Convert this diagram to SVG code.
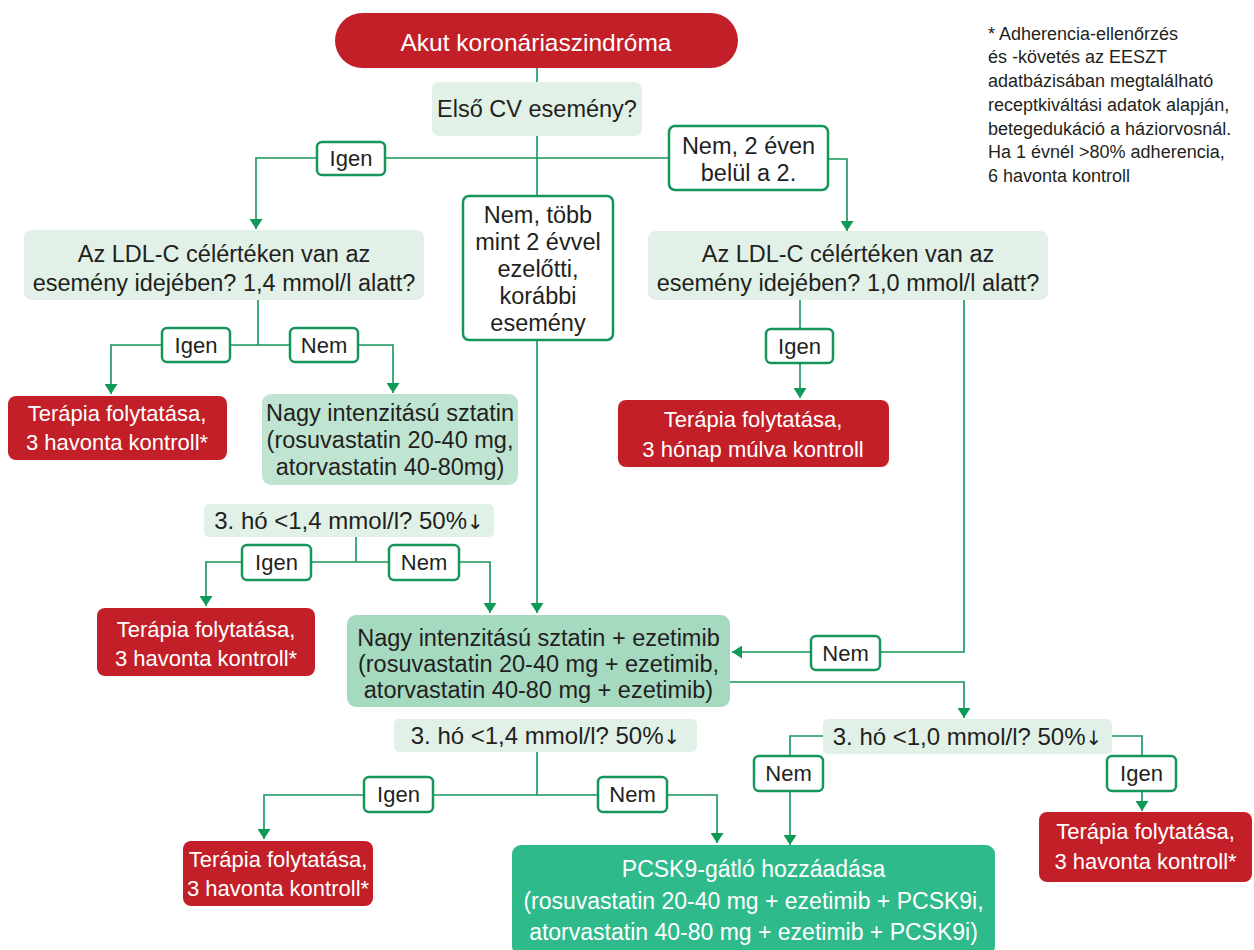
<svg xmlns="http://www.w3.org/2000/svg" width="1254" height="950" viewBox="0 0 1254 950">
<style>
text{font-family:"Liberation Sans",Arial,sans-serif;fill:#231f20;text-anchor:middle}
.t{font-size:23.5px}
.r{font-size:22px;fill:#ffffff}
.w{fill:#ffffff}
.h{font-size:24px}
.ar{font-family:"DejaVu Sans",sans-serif;font-size:20px;fill:#231f20}
.lbl{font-size:22px}
.fn{font-size:18px;text-anchor:start}
.red{fill:#c21f28}
.q{fill:#e1f1e7}
.g1{fill:#bfe4d1}
.g2{fill:#a5d9c0}
.g3{fill:#2fba8b}
.lb{fill:#ffffff;stroke:#14955a;stroke-width:2.5}
.c{fill:none;stroke:#14955a;stroke-width:1.6}
</style>
<defs>
<marker id="ah" viewBox="0 0 10 13" refX="10" refY="6.5" markerWidth="10" markerHeight="13" orient="auto" markerUnits="userSpaceOnUse">
<path d="M0,0 L10,6.5 L0,13 z" fill="#0d9a57"/>
</marker>
</defs>

<g id="connectors">
<path class="c" d="M537,68 V82"/>
<path class="c" d="M537,136 V196"/>
<path class="c" d="M537,158 H256 V229" marker-end="url(#ah)"/>
<path class="c" d="M537,158 H669"/>
<path class="c" d="M828,159 H847 V231" marker-end="url(#ah)"/>
<path class="c" d="M537,340 V613" marker-end="url(#ah)"/>
<path class="c" d="M258,300 V345"/>
<path class="c" d="M258,345 H111 V394" marker-end="url(#ah)"/>
<path class="c" d="M258,345 H393 V393" marker-end="url(#ah)"/>
<path class="c" d="M800,300 V398" marker-end="url(#ah)"/>
<path class="c" d="M964,300 V652 H732" marker-end="url(#ah)"/>
<path class="c" d="M356,537 V562"/>
<path class="c" d="M356,562 H206 V606" marker-end="url(#ah)"/>
<path class="c" d="M356,562 H490 V613" marker-end="url(#ah)"/>
<path class="c" d="M730,682 H964 V718" marker-end="url(#ah)"/>
<path class="c" d="M537,752 V795"/>
<path class="c" d="M537,795 H264 V839" marker-end="url(#ah)"/>
<path class="c" d="M537,795 H717 V843" marker-end="url(#ah)"/>
<path class="c" d="M823,736 H790 V845" marker-end="url(#ah)"/>
<path class="c" d="M1112,736 H1142 V811" marker-end="url(#ah)"/>
</g>

<g id="n-start">
<rect class="red" x="335" y="13" width="403" height="55" rx="27.5"/>
<text class="w" x="536" y="51" font-size="24.5">Akut koronáriaszindróma</text>
</g>

<g id="n-first">
<rect class="q" x="432" y="82" width="210" height="54" rx="7"/>
<text class="t" x="537" y="117">Első CV esemény?</text>
</g>

<g id="l-igen1">
<rect class="lb" x="317" y="142" width="68" height="33" rx="5"/>
<text class="lbl" x="351" y="166">Igen</text>
</g>

<g id="n-nem2">
<rect class="lb" x="669" y="126" width="159" height="64" rx="6"/>
<text class="t" x="748.5" y="154">Nem, 2 éven</text>
<text class="t" x="748.5" y="181">belül a 2.</text>
</g>

<g id="n-nemtobb">
<rect class="lb" x="463" y="196" width="150" height="144" rx="6"/>
<text class="t" x="538" y="223">Nem, több</text>
<text class="t" x="538" y="250">mint 2 évvel</text>
<text class="t" x="538" y="277">ezelőtti,</text>
<text class="t" x="538" y="304">korábbi</text>
<text class="t" x="538" y="331">esemény</text>
</g>

<g id="n-ldl14">
<rect class="q" x="24" y="230" width="400" height="70" rx="8"/>
<text class="t" x="224" y="262">Az LDL-C célértéken van az</text>
<text class="t" x="224" y="291">esemény idejében? 1,4 mmol/l alatt?</text>
</g>

<g id="n-ldl10">
<rect class="q" x="648" y="231" width="400" height="69" rx="8"/>
<text class="t" x="848" y="262">Az LDL-C célértéken van az</text>
<text class="t" x="848" y="291">esemény idejében? 1,0 mmol/l alatt?</text>
</g>

<g id="l-igen2">
<rect class="lb" x="162" y="328" width="68" height="34" rx="5"/>
<text class="lbl" x="196" y="353">Igen</text>
</g>
<g id="l-nem2">
<rect class="lb" x="290" y="328" width="68" height="34" rx="5"/>
<text class="lbl" x="324" y="353">Nem</text>
</g>

<g id="n-ter1">
<rect class="red" x="8" y="396" width="219" height="64" rx="8"/>
<text class="r" x="117" y="421">Terápia folytatása,</text>
<text class="r" x="117" y="450">3 havonta kontroll*</text>
</g>

<g id="n-sztatin">
<rect class="g1" x="262" y="394" width="256" height="91" rx="9"/>
<text class="t" x="390" y="421">Nagy intenzitású sztatin</text>
<text class="t" x="390" y="448">(rosuvastatin 20-40 mg,</text>
<text class="t" x="390" y="475">atorvastatin 40-80mg)</text>
</g>

<g id="l-igen3">
<rect class="lb" x="766" y="329" width="67" height="34" rx="5"/>
<text class="lbl" x="799.5" y="354">Igen</text>
</g>

<g id="n-ter2">
<rect class="red" x="618" y="400" width="271" height="67" rx="8"/>
<text class="r" x="753" y="427" font-size="23">Terápia folytatása,</text>
<text class="r" x="753" y="457" font-size="23">3 hónap múlva kontroll</text>
</g>

<g id="n-ho1">
<rect class="q" x="204" y="504" width="290" height="33" rx="5"/>
<text class="h" x="349" y="529">3. hó &lt;1,4 mmol/l? 50%<tspan class="ar">↓</tspan></text>
</g>

<g id="l-igen4">
<rect class="lb" x="242" y="545" width="69" height="35" rx="5"/>
<text class="lbl" x="276.5" y="570">Igen</text>
</g>
<g id="l-nem4">
<rect class="lb" x="389" y="545" width="70" height="35" rx="5"/>
<text class="lbl" x="424" y="570">Nem</text>
</g>

<g id="n-ter3">
<rect class="red" x="97" y="608" width="218" height="68" rx="8"/>
<text class="r" x="206" y="637">Terápia folytatása,</text>
<text class="r" x="206" y="666">3 havonta kontroll*</text>
</g>

<g id="n-ezetimib">
<rect class="g2" x="347" y="615" width="383" height="92" rx="9"/>
<text class="t" x="538.5" y="646">Nagy intenzitású sztatin + ezetimib</text>
<text class="t" x="538.5" y="672">(rosuvastatin 20-40 mg + ezetimib,</text>
<text class="t" x="538.5" y="698">atorvastatin 40-80 mg + ezetimib)</text>
</g>

<g id="l-nem5">
<rect class="lb" x="811" y="636" width="69" height="34" rx="5"/>
<text class="lbl" x="845.5" y="661">Nem</text>
</g>

<g id="n-ho2">
<rect class="q" x="394" y="719" width="303" height="33" rx="5"/>
<text class="h" x="545.5" y="744">3. hó &lt;1,4 mmol/l? 50%<tspan class="ar">↓</tspan></text>
</g>

<g id="n-ho3">
<rect class="q" x="823" y="719" width="289" height="35" rx="5"/>
<text class="h" x="967.5" y="745">3. hó &lt;1,0 mmol/l? 50%<tspan class="ar">↓</tspan></text>
</g>

<g id="l-igen6">
<rect class="lb" x="364" y="777" width="69" height="35" rx="5"/>
<text class="lbl" x="398.5" y="802">Igen</text>
</g>
<g id="l-nem6">
<rect class="lb" x="598" y="777" width="69" height="35" rx="5"/>
<text class="lbl" x="632.5" y="802">Nem</text>
</g>

<g id="l-nem7">
<rect class="lb" x="754" y="756" width="69" height="35" rx="5"/>
<text class="lbl" x="788.5" y="781">Nem</text>
</g>
<g id="l-igen7">
<rect class="lb" x="1107" y="756" width="69" height="35" rx="5"/>
<text class="lbl" x="1141.5" y="781">Igen</text>
</g>

<g id="n-ter4">
<rect class="red" x="183" y="841" width="190" height="65" rx="8"/>
<text class="r" x="278" y="867" font-size="21">Terápia folytatása,</text>
<text class="r" x="278" y="896" font-size="21">3 havonta kontroll*</text>
</g>

<g id="n-ter5">
<rect class="red" x="1039" y="812" width="213" height="70" rx="8"/>
<text class="r" x="1145.5" y="839">Terápia folytatása,</text>
<text class="r" x="1145.5" y="869">3 havonta kontroll*</text>
</g>

<g id="n-pcsk9">
<rect class="g3" x="512" y="845" width="483" height="110" rx="9"/>
<text class="w" x="753.5" y="877" font-size="23">PCSK9-gátló hozzáadása</text>
<text class="w" x="753.5" y="909" font-size="23">(rosuvastatin 20-40 mg + ezetimib + PCSK9i,</text>
<text class="w" x="753.5" y="940" font-size="23">atorvastatin 40-80 mg + ezetimib + PCSK9i)</text>
</g>

<g id="footnote">
<text class="fn" x="988" y="40">* Adherencia-ellenőrzés</text>
<text class="fn" x="988" y="63">és -követés az EESZT</text>
<text class="fn" x="988" y="87">adatbázisában megtalálható</text>
<text class="fn" x="988" y="111">receptkiváltási adatok alapján,</text>
<text class="fn" x="988" y="135">betegedukáció a háziorvosnál.</text>
<text class="fn" x="988" y="158">Ha 1 évnél &gt;80% adherencia,</text>
<text class="fn" x="988" y="182">6 havonta kontroll</text>
</g>
</svg>
